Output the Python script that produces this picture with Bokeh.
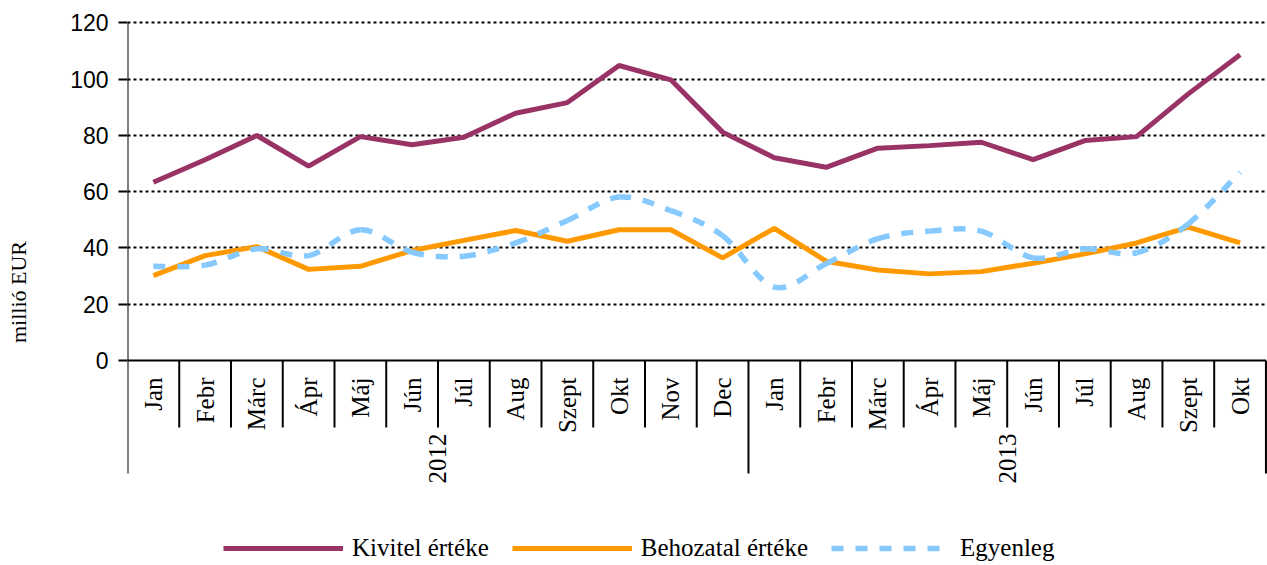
import math
from bokeh.plotting import figure
from bokeh.models import (Range1d, FixedTicker, Legend, LegendItem)
from bokeh.core.properties import value
from bokeh.embed import file_html
from bokeh.resources import INLINE

months = ["Jan", "Febr", "Márc", "Ápr", "Máj", "Jún", "Júl", "Aug", "Szept", "Okt", "Nov", "Dec",
          "Jan", "Febr", "Márc", "Ápr", "Máj", "Jún", "Júl", "Aug", "Szept", "Okt"]
years = ["2012", "2013"]
year_counts = [12, 10]

kivitel = [63.4, 71.4, 80.0, 69.1, 79.6, 76.7, 79.4, 87.9, 91.7, 104.9, 99.8, 81.2,
           72.1, 68.7, 75.5, 76.4, 77.6, 71.4, 78.2, 79.6, 94.8, 108.7]
behozatal = [30.2, 37.3, 40.5, 32.4, 33.5, 39.1, 42.7, 46.2, 42.4, 46.5, 46.5, 36.5,
             47.0, 35.3, 32.2, 30.8, 31.6, 34.6, 37.9, 41.8, 47.4, 41.8]
egyenleg = [33.5, 33.9, 39.7, 37.3, 46.5, 38.5, 37.1, 41.8, 49.8, 58.1, 53.3, 44.4,
            26.1, 34.4, 43.3, 46.0, 46.0, 36.5, 39.7, 38.3, 48.6, 67.0]
y_ticks = [0, 20, 40, 60, 80, 100, 120]

series_names = ["Kivitel értéke", "Behozatal értéke", "Egyenleg"]
colors = ["#993366", "#FF9900", "#85C9FF"]

n = len(months)
xc = [i + 0.5 for i in range(n)]

PX = 2.8125  # px per unit on y
p = figure(width=1267, height=565, output_backend="svg", toolbar_location=None,
           x_range=Range1d(0, n + 0.03), y_range=Range1d(-72.89, 121.6),
           x_axis_location=None, min_border_left=127, min_border_right=0,
           min_border_top=18, min_border_bottom=0)
p.outline_line_color = None
p.background_fill_color = "white"
p.border_fill_color = "white"
p.xgrid.visible = False

p.ygrid.ticker = FixedTicker(ticks=[t for t in y_ticks if t > 0])
p.ygrid.grid_line_color = "black"
p.ygrid.grid_line_width = 2
p.ygrid.grid_line_dash = "3 3"

ax = p.yaxis[0]
ax.ticker = FixedTicker(ticks=y_ticks)
ax.axis_line_color = None
ax.major_tick_line_color = "black"
ax.major_tick_line_width = 2
ax.major_tick_out = 9
ax.major_tick_in = 0
ax.minor_tick_line_color = None
ax.major_label_text_font = "Liberation Sans"
ax.major_label_text_font_size = "23px"
ax.major_label_text_color = "black"
ax.major_label_standoff = 10
ax.axis_label = "millió EUR"
ax.axis_label_text_font = "Liberation Serif"
ax.axis_label_text_font_size = "22px"
ax.axis_label_text_font_style = "normal"
ax.axis_label_text_color = "black"
ax.axis_label_standoff = 36

# category axis drawn by hand
short_end = -67 / PX
long_end = -113 / PX
bounds = [0]
for c in year_counts:
    bounds.append(bounds[-1] + c)
sx, sy0, sy1 = [], [], []
for b in range(n + 1):
    sx.append(b)
    if b in bounds:
        sy0.append(120 if b == 0 else 0)
        sy1.append(long_end)
    else:
        sy0.append(0)
        sy1.append(short_end)
p.segment(x0=sx, y0=sy0, x1=sx, y1=sy1, line_color="black", line_width=2)
p.segment(x0=[0], y0=[0], x1=[n], y1=[0], line_color="black", line_width=2)

p.text(x=xc, y=[-17 / PX] * n, text=months, angle=math.pi / 2,
       text_align="right", text_baseline="middle",
       text_font=value("Liberation Serif"), text_font_size="25px", text_color="black")
year_x = [(bounds[i] + bounds[i + 1]) / 2 for i in range(len(years))]
p.text(x=year_x, y=[-73 / PX] * len(years), text=years, angle=math.pi / 2,
       text_align="right", text_baseline="middle",
       text_font=value("Liberation Serif"), text_font_size="25px", text_color="black")

# series
r1 = p.line(xc, kivitel, line_color=colors[0], line_width=5)
r2 = p.line(xc, behozatal, line_color=colors[1], line_width=5)

# smoothed dashed line (Catmull-Rom bezier through the data points)
pts = list(zip(xc, egyenleg))
bx0, by0, bx1, by1, c0x, c0y, c1x, c1y = [], [], [], [], [], [], [], []
for i in range(n - 1):
    p0 = pts[i - 1] if i > 0 else pts[i]
    p1 = pts[i]
    p2 = pts[i + 1]
    p3 = pts[i + 2] if i + 2 < n else pts[i + 1]
    bx0.append(p1[0]); by0.append(p1[1])
    bx1.append(p2[0]); by1.append(p2[1])
    c0x.append(p1[0] + (p2[0] - p0[0]) / 6); c0y.append(p1[1] + (p2[1] - p0[1]) / 6)
    c1x.append(p2[0] - (p3[0] - p1[0]) / 6); c1y.append(p2[1] - (p3[1] - p1[1]) / 6)
p.bezier(x0=bx0, y0=by0, x1=bx1, y1=by1, cx0=c0x, cy0=c0y, cx1=c1x, cy1=c1y,
         line_color=colors[2], line_width=5.5, line_dash="12 12")
# legend proxy for the dashed series (hidden renderer, legend glyph only)
r3 = p.line(xc, egyenleg, line_color=colors[2], line_width=5.5, line_dash="12 12")
r3.visible = False

legend = Legend(items=[LegendItem(label=series_names[0], renderers=[r1]),
                       LegendItem(label=series_names[1], renderers=[r2]),
                       LegendItem(label=series_names[2], renderers=[r3])],
                orientation="horizontal", location=(96, 3))
legend.padding = 0
legend.margin = 0
legend.spacing = 23
legend.label_standoff = 9
legend.glyph_width = 120
legend.glyph_height = 20
legend.label_height = 20
legend.label_text_font = "Liberation Serif"
legend.label_text_font_size = "25px"
legend.label_text_color = "black"
legend.border_line_color = None
legend.background_fill_alpha = 0
legend.click_policy = "none"
p.add_layout(legend)

open("out.html", "w").write(file_html(p, INLINE))
